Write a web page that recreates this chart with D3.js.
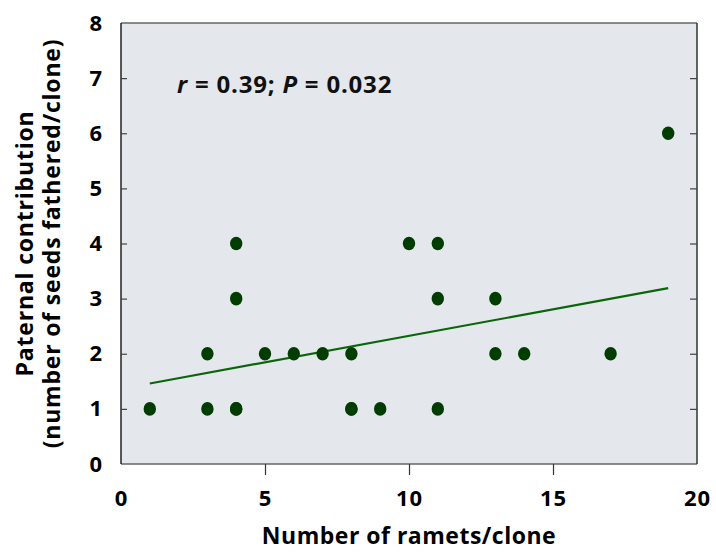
<!DOCTYPE html>
<html><head><meta charset="utf-8">
<script src="https://cdn.jsdelivr.net/npm/d3@7"></script>
<style>body{margin:0;background:#fff;} svg{display:block;font-family:"Open Sans",sans-serif;}</style>
</head><body>
<svg id="c" width="716" height="552"></svg>
<script>
const ramets = [1,3,3,4,4,4,4,5,6,7,8,8,8,9,10,11,11,11,13,13,14,17,19];
const seeds  = [1,1,2,1,1,3,4,2,2,2,2,1,1,1,4,4,3,1,3,2,2,2,6];
const fitX = [1,19];
const fitY = [1.46,3.19];
const xTicks = [0,5,10,15,20];
const yTicks = [0,1,2,3,4,5,6,7,8];
const annotation = ["r", " = 0.39; ", "P", " = 0.032"];

const svg = d3.select("#c");
const L=121, R=697, T=23, B=464;
const x = d3.scaleLinear().domain([0,20]).range([L,R]);
const y = d3.scaleLinear().domain([0,8]).range([B,T]);

svg.append("rect").attr("x",L).attr("y",T).attr("width",R-L).attr("height",B-T).attr("fill","#e4e7ec");

// frame
svg.append("line").attr("x1",L).attr("x2",R).attr("y1",T).attr("y2",T).attr("stroke","#666").attr("stroke-width",1.5);
svg.append("line").attr("x1",L).attr("x2",R).attr("y1",B).attr("y2",B).attr("stroke","#666").attr("stroke-width",1.5);
svg.append("line").attr("x1",L).attr("x2",L).attr("y1",T).attr("y2",B).attr("stroke","#222").attr("stroke-width",1.5);
svg.append("line").attr("x1",R).attr("x2",R).attr("y1",T).attr("y2",B).attr("stroke","#333").attr("stroke-width",1.5);

// x axis
const xa = svg.append("g").attr("transform",`translate(0,${B})`)
  .call(d3.axisBottom(x).tickValues(xTicks).tickSize(11).tickPadding(15).tickFormat(d3.format("d")));
xa.select(".domain").remove();
xa.selectAll("line").attr("stroke","#333").attr("stroke-width",1.2).filter(d=>d===0||d===20).remove();
xa.selectAll("text").attr("font-size",22).attr("font-weight",700).attr("fill","#000").attr("font-family","Open Sans").attr("letter-spacing",1);

// y axis left (inward ticks)
const ya = svg.append("g").attr("transform",`translate(${L},0)`)
  .call(d3.axisLeft(y).tickValues(yTicks).tickSize(-6).tickPadding(19).tickFormat(d3.format("d")));
ya.select(".domain").remove();
ya.selectAll("line").attr("stroke","#444").attr("stroke-width",1.2).filter(d=>d===0||d===8).remove();
ya.selectAll("text").attr("font-size",22).attr("font-weight",700).attr("fill","#000").attr("font-family","Open Sans");

// y axis right (inward ticks)
const yr = svg.append("g").attr("transform",`translate(${R},0)`)
  .call(d3.axisRight(y).tickValues(yTicks).tickSize(-7).tickFormat(""));
yr.select(".domain").remove();
yr.selectAll("line").attr("stroke","#444").attr("stroke-width",1.2).filter(d=>d===0||d===8).remove();

// fit line
svg.append("line").attr("x1",x(fitX[0])).attr("y1",y(fitY[0])).attr("x2",x(fitX[1])).attr("y2",y(fitY[1]))
  .attr("stroke","#0b650b").attr("stroke-width",2.2);

// points
svg.append("g").selectAll("ellipse").data(ramets.map((r,i)=>[r,seeds[i]])).join("ellipse")
  .attr("cx",d=>x(d[0])).attr("cy",d=>y(d[1])).attr("rx",6.2).attr("ry",6.8).attr("fill","#013d01");

// annotation
const at = svg.append("text").attr("x",177).attr("y",93).attr("font-size",24).attr("font-weight",700).attr("fill","#111").attr("letter-spacing",0.8);
annotation.forEach((s,i)=>at.append("tspan").text(s).attr("font-style",i%2===0?"italic":"normal"));

// axis titles
svg.append("text").attr("x",(L+R)/2).attr("y",544).attr("text-anchor","middle")
  .attr("font-size",23).attr("font-weight",700).attr("letter-spacing",0.5).text("Number of ramets/clone");
const yt = svg.append("text").attr("transform",`translate(0,${(T+B)/2}) rotate(-90)`).attr("text-anchor","middle")
  .attr("font-size",23).attr("font-weight",700).attr("letter-spacing",0.8);
yt.append("tspan").attr("x",0).attr("y",33).text("Paternal contribution");
yt.append("tspan").attr("x",0).attr("y",60).text("(number of seeds fathered/clone)");
</script>
</body></html>
